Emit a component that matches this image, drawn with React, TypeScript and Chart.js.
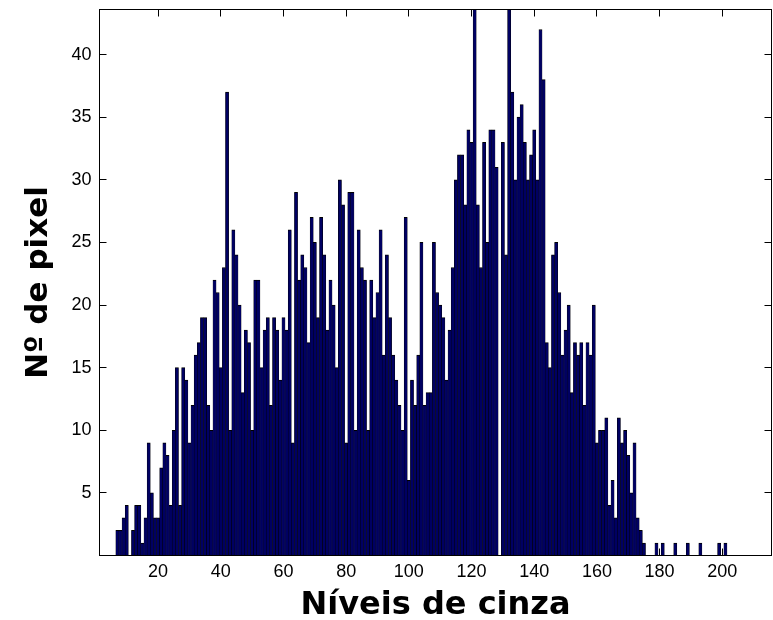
import { useEffect, useRef } from 'react';
import { Chart, registerables } from 'chart.js';

Chart.register(...registerables);

// Gray level of the first bar in the main block
const firstLevel = 7;
// Pixel counts per gray level (consecutive levels)
const counts7to30 = [2, 2, 3, 4, 0, 2, 4, 4, 1, 3, 9, 5, 3, 3, 7, 9, 8, 4, 10, 15, 4, 15, 14, 9];
const counts31to60 = [12, 16, 17, 19, 19, 12, 10, 22, 21, 15, 23, 37, 10, 26, 24, 20, 13, 18, 17, 10, 22, 22, 15, 18, 19, 12, 19, 18, 14, 19];
const counts61to90 = [18, 26, 9, 29, 22, 24, 23, 17, 27, 25, 19, 27, 24, 18, 22, 20, 15, 30, 28, 9, 29, 29, 10, 26, 23, 22, 10, 22, 19, 21];
const counts91to120 = [26, 16, 24, 19, 16, 14, 12, 10, 27, 6, 14, 12, 16, 25, 12, 13, 13, 25, 21, 20, 19, 14, 18, 23, 30, 32, 32, 28, 34, 33];
const counts121to150 = [44, 28, 23, 33, 25, 34, 34, 31, 0, 33, 24, 44, 37, 30, 35, 36, 33, 30, 32, 34, 30, 42, 38, 17, 15, 24, 25, 21, 16, 18];
const counts151to175 = [20, 13, 17, 16, 17, 12, 17, 16, 20, 9, 10, 10, 11, 4, 6, 3, 11, 9, 10, 8, 5, 9, 3, 2, 1];
// Isolated bright levels
const tailLevels = [179, 181, 185, 189, 193, 199, 201];
const tailCounts = [1, 1, 1, 1, 1, 1, 1];

const xTickValues = [20, 40, 60, 80, 100, 120, 140, 160, 180, 200];
const yTickValues = [5, 10, 15, 20, 25, 30, 35, 40];
const xMin = 1.3;
const xMax = 215.7;
const yMin = 0;
const yMax = 43.6;

const xTitle = 'Níveis de cinza';
const yTitle = 'Nº de pixel';

const TICK_LEN = 7;

const framePlugin = {
  id: 'matlabFrame',
  beforeDatasetsDraw(chart: any) {
    const { ctx, chartArea: a, scales } = chart;
    const x = scales.x;
    const y = scales.y;
    ctx.save();
    ctx.strokeStyle = '#000';
    ctx.lineWidth = 1;
    ctx.beginPath();
    for (const v of xTickValues) {
      const px = Math.round(x.getPixelForValue(v) - 0.5) + 0.5;
      ctx.moveTo(px, a.top);
      ctx.lineTo(px, a.top + TICK_LEN);
      ctx.moveTo(px, a.bottom);
      ctx.lineTo(px, a.bottom - TICK_LEN);
    }
    for (const v of yTickValues) {
      const py = Math.round(y.getPixelForValue(v) - 0.5) + 0.5;
      ctx.moveTo(a.left, py);
      ctx.lineTo(a.left + TICK_LEN, py);
      ctx.moveTo(a.right, py);
      ctx.lineTo(a.right - TICK_LEN, py);
    }
    ctx.stroke();
    ctx.restore();
  },
  afterDatasetsDraw(chart: any) {
    const { ctx, chartArea: a } = chart;
    ctx.save();
    ctx.strokeStyle = '#000';
    ctx.lineWidth = 1;
    ctx.strokeRect(a.left, a.top, a.right - a.left, a.bottom - a.top);
    ctx.restore();
  },
};

export default function App() {
  const canvasRef = useRef<HTMLCanvasElement | null>(null);

  useEffect(() => {
    const canvas = canvasRef.current;
    if (!canvas) return;

    const mainCounts = [
      ...counts7to30,
      ...counts31to60,
      ...counts61to90,
      ...counts91to120,
      ...counts121to150,
      ...counts151to175,
    ];
    const points: { x: number; y: number }[] = [];
    mainCounts.forEach((c, i) => points.push({ x: firstLevel + i, y: c }));
    tailLevels.forEach((l, i) => points.push({ x: l, y: tailCounts[i] }));

    const tickFont = { family: 'Liberation Sans', size: 18 };
    const xTitleFont = { family: 'DejaVu Sans', size: 32, weight: 'bold' as const, lineHeight: 0.9 };
    const yTitleFont = { family: 'DejaVu Sans', size: 31, weight: 'bold' as const, lineHeight: 1.1 };

    const chart = new Chart(canvas, {
      type: 'bar',
      data: {
        datasets: [
          {
            data: points as any,
            backgroundColor: '#000062',
            borderColor: '#000000',
            borderWidth: { top: 1, left: 0.5, right: 0.5, bottom: 0 } as any,
            borderSkipped: 'start',
            barPercentage: 1,
            categoryPercentage: 1,
          },
        ],
      },
      options: {
        animation: false,
        responsive: false,
        devicePixelRatio: 1,
        layout: { padding: { left: 0, right: 1.5, top: 9.5, bottom: 0 } },
        plugins: {
          legend: { display: false },
          tooltip: { enabled: false },
        },
        scales: {
          x: {
            type: 'linear',
            offset: false,
            min: xMin,
            max: xMax,
            grid: { display: false, drawTicks: false, offset: false },
            border: { display: false },
            afterBuildTicks: (scale: any) => {
              scale.ticks = xTickValues.map((v) => ({ value: v }));
            },
            afterFit: (scale: any) => {
              scale.height = 64.5;
              scale.paddingLeft = 0;
              scale.paddingRight = 0;
            },
            ticks: {
              autoSkip: false,
              maxRotation: 0,
              padding: 6,
              color: '#000',
              font: tickFont,
            },
            title: {
              display: true,
              text: xTitle,
              color: '#000',
              font: xTitleFont,
              padding: { top: 0, bottom: 0 },
            },
          },
          y: {
            type: 'linear',
            min: yMin,
            max: yMax,
            grid: { display: false, drawTicks: false },
            border: { display: false },
            afterBuildTicks: (scale: any) => {
              scale.ticks = yTickValues.map((v) => ({ value: v }));
            },
            afterFit: (scale: any) => {
              scale.width = 99.5;
              scale.paddingTop = 0;
              scale.paddingBottom = 0;
            },
            ticks: {
              padding: 8,
              color: '#000',
              font: tickFont,
            },
            title: {
              display: true,
              text: yTitle,
              color: '#000',
              font: yTitleFont,
              padding: { top: 22, bottom: 0 },
            },
          },
        },
      },
      plugins: [framePlugin],
    });

    return () => {
      chart.destroy();
    };
  }, []);

  return (
    <div style={{ position: 'absolute', left: 0, top: 0, width: 773, height: 620, background: '#fff' }}>
      <canvas ref={canvasRef} width={773} height={620} style={{ display: 'block' }} />
    </div>
  );
}
